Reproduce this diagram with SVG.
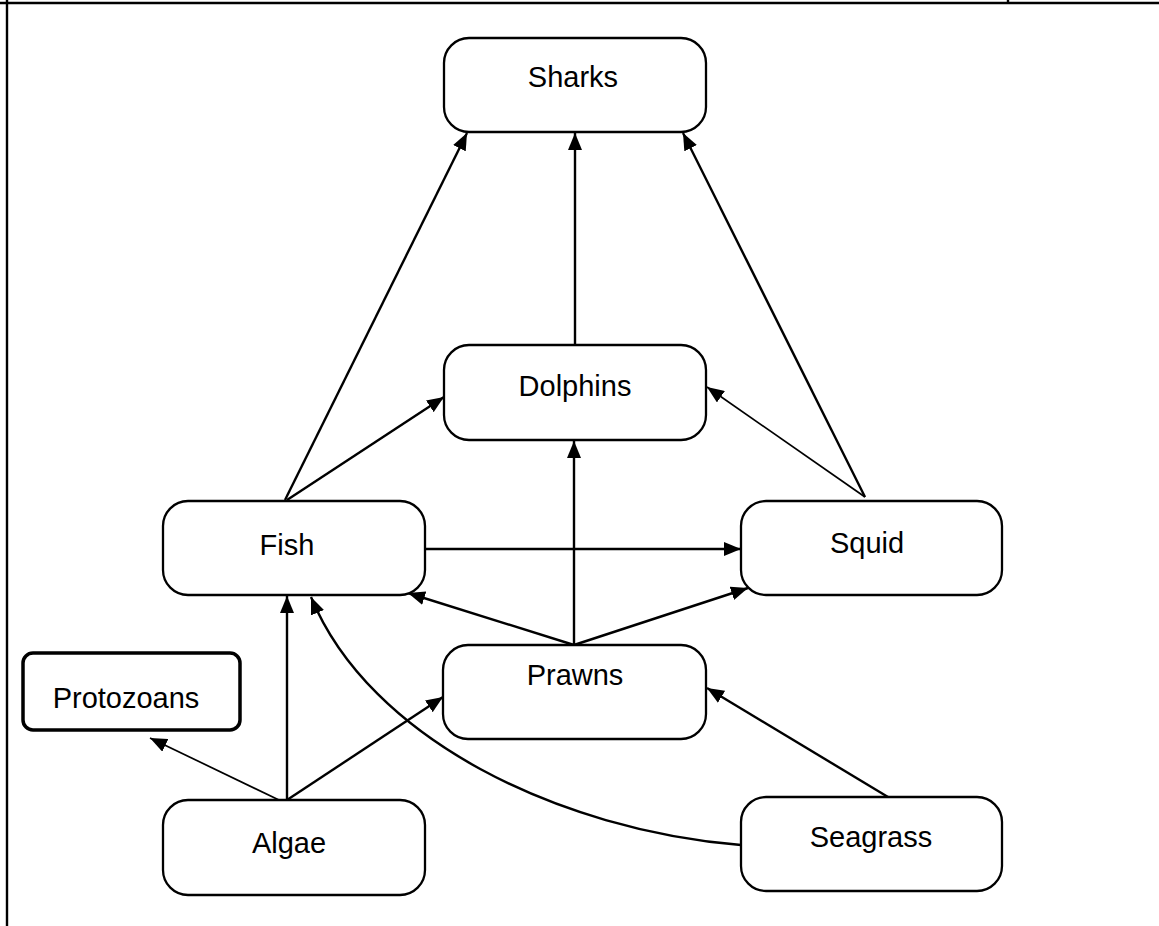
<svg xmlns="http://www.w3.org/2000/svg" width="1159" height="926" viewBox="0 0 1159 926">
<style>
.box{fill:#fff;stroke:#000;stroke-width:2.3}
.thick{fill:#fff;stroke:#000;stroke-width:3.5}
.lbl{font-family:"Liberation Sans",Arial,sans-serif;font-size:29px;fill:#000;text-anchor:middle}
.e{fill:none;stroke:#000;stroke-width:2.4}
.t{fill:none;stroke:#000;stroke-width:1.7}
.frame{stroke:#000;stroke-width:2.4;fill:none}
</style>
<defs>
<marker id="ah" markerUnits="userSpaceOnUse" markerWidth="18" markerHeight="14" refX="17" refY="7" orient="auto">
<path d="M0,0 L17,7 L0,14 z" fill="#000"/>
</marker>
</defs>
<rect width="1159" height="926" fill="#fff"/>
<g id="frame">
<line class="frame" x1="0" y1="3" x2="1159" y2="3"/>
<line class="frame" x1="7" y1="0" x2="7" y2="926"/>
<line class="frame" x1="1008" y1="0" x2="1008" y2="3"/>
</g>
<g id="connectors">
<line class="e" x1="285" y1="500" x2="467" y2="133" marker-end="url(#ah)"/>
<line class="e" x1="575" y1="345" x2="575" y2="133" marker-end="url(#ah)"/>
<line class="e" x1="865" y1="497" x2="683" y2="133" marker-end="url(#ah)"/>
<line class="e" x1="287" y1="500" x2="444" y2="397" marker-end="url(#ah)"/>
<line class="t" x1="865" y1="497" x2="707" y2="387" marker-end="url(#ah)"/>
<line class="e" x1="426" y1="549" x2="741" y2="549" marker-end="url(#ah)"/>
<line class="e" x1="574" y1="645" x2="574" y2="441" marker-end="url(#ah)"/>
<line class="e" x1="574" y1="645" x2="408" y2="593" marker-end="url(#ah)"/>
<line class="e" x1="574" y1="645" x2="748" y2="588" marker-end="url(#ah)"/>
<line class="e" x1="287" y1="800" x2="287" y2="596" marker-end="url(#ah)"/>
<line class="e" x1="287" y1="800" x2="443" y2="697" marker-end="url(#ah)"/>
<line class="t" x1="279" y1="800" x2="150" y2="738" marker-end="url(#ah)"/>
<path class="e" d="M741,845 C560,830 370,740 311,597" marker-end="url(#ah)"/>
<line class="e" x1="888" y1="797" x2="707" y2="688" marker-end="url(#ah)"/>
</g>
<g id="sharks"><rect class="box" x="444" y="38" width="262" height="94" rx="25"/><text class="lbl" x="573" y="87">Sharks</text></g>
<g id="dolphins"><rect class="box" x="444" y="345" width="262" height="95" rx="25"/><text class="lbl" x="575" y="396">Dolphins</text></g>
<g id="fish"><rect class="box" x="163" y="501" width="262" height="94" rx="25"/><text class="lbl" x="287" y="555">Fish</text></g>
<g id="squid"><rect class="box" x="741" y="501" width="261" height="94" rx="25"/><text class="lbl" x="867" y="553">Squid</text></g>
<g id="prawns"><rect class="box" x="443" y="645" width="263" height="94" rx="25"/><text class="lbl" x="575" y="685">Prawns</text></g>
<g id="protozoans"><rect class="thick" x="23" y="653" width="217" height="77" rx="10"/><text class="lbl" x="126" y="708">Protozoans</text></g>
<g id="algae"><rect class="box" x="163" y="800" width="262" height="95" rx="25"/><text class="lbl" x="289" y="853">Algae</text></g>
<g id="seagrass"><rect class="box" x="741" y="797" width="261" height="94" rx="25"/><text class="lbl" x="871" y="847">Seagrass</text></g>
</svg>
